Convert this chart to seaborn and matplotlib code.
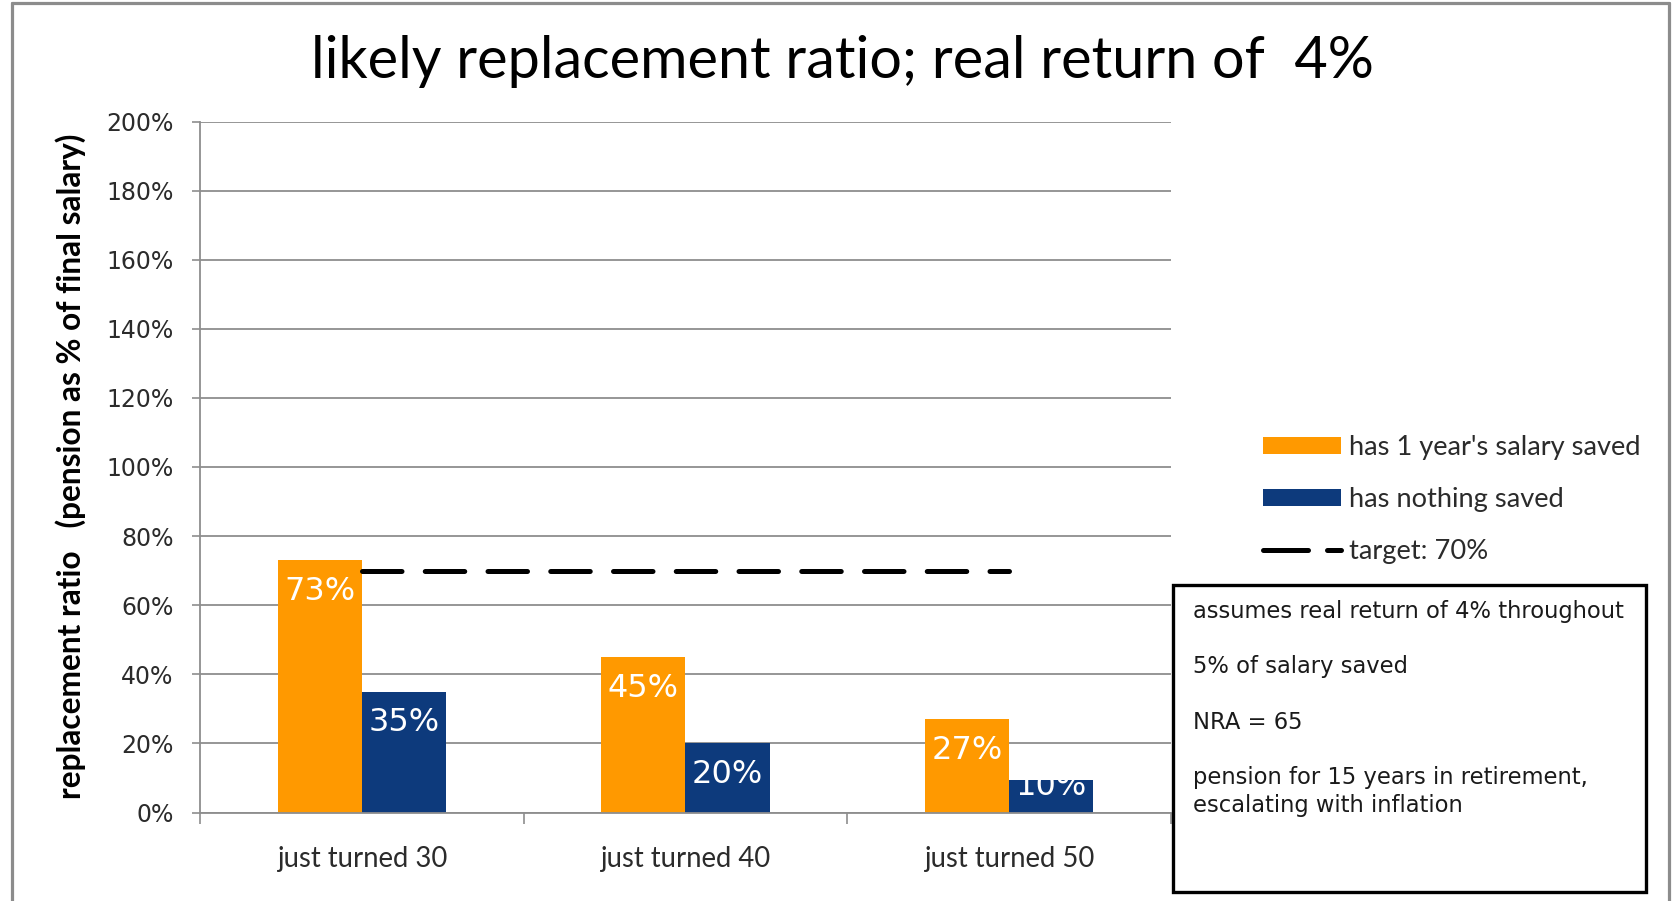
import numpy as np
import pandas as pd
import matplotlib
matplotlib.use("Agg")
import matplotlib.pyplot as plt
import seaborn as sns
from matplotlib.patches import Rectangle, Patch
from matplotlib.lines import Line2D
from matplotlib.ticker import PercentFormatter, FixedLocator

# ---------------- data ----------------
categories = ["just turned 30", "just turned 40", "just turned 50"]
series_names = ["has 1 year's salary saved", "has nothing saved"]
saved_one_year = [0.73, 0.45, 0.27]
saved_nothing = [0.35, 0.20, 0.095]
target_label = "target: 70%"
target_values = [0.70, 0.70, 0.70]
y_ticks = [0.0, 0.2, 0.4, 0.6, 0.8, 1.0, 1.2, 1.4, 1.6, 1.8, 2.0]
title_text = "likely replacement ratio; real return of  4%"
ylabel_text = "replacement ratio   (pension as % of final salary)"
note_lines = [
    "assumes real return of 4% throughout",
    "",
    "5% of salary saved",
    "",
    "NRA = 65",
    "",
    "pension for 15 years in retirement,",
    "escalating with inflation",
]

ORANGE = "#FF9900"
BLUE = "#0D3A7C"
GRID = "#8E8E8E"

df = pd.DataFrame({
    "category": categories * 2,
    "series": [series_names[0]] * 3 + [series_names[1]] * 3,
    "value": saved_one_year + saved_nothing,
})

sns.set_theme(style="white")
plt.rcParams["font.family"] = ["DejaVu Sans"]

W, H = 1672, 901
fig = plt.figure(figsize=(W / 100, H / 100), dpi=100)
fig.patch.set_facecolor("white")

ax_left, ax_right, ax_top, ax_bottom = 200, 1171, 121.5, 812.5
ax = fig.add_axes([ax_left / W, 1 - ax_bottom / H, (ax_right - ax_left) / W, (ax_bottom - ax_top) / H])

sns.barplot(data=df, x="category", y="value", hue="series", order=categories,
            hue_order=series_names, palette=[ORANGE, BLUE], width=0.52, gap=0,
            saturation=1, linewidth=0, legend=False, ax=ax, zorder=2)

ax.set_xlim(-0.5, 2.5)
ax.set_ylim(0, 2.0)

# value labels (white, inside bars near top, clipped to bar)
pt_per_unit = (ax_bottom - ax_top) / 2.0 * 0.72
for container, vals in zip(ax.containers, [saved_one_year, saved_nothing]):
    for bar, v in zip(container, vals):
        h_pt = v * pt_per_unit
        off = min(22.5, h_pt - 18.5)
        t = ax.annotate(f"{v * 100:.0f}%", xy=(bar.get_x() + bar.get_width() / 2, v),
                        xytext=(0, -off), textcoords="offset points",
                        ha="center", va="center", color="white", fontsize=23,
                        family=["DejaVu Sans"], zorder=5)
        t.set_clip_path(bar)

# target line
x_pos = np.arange(len(categories))
line, = ax.plot(x_pos, target_values, color="black", lw=3.6, zorder=4,
                dash_capstyle="round")
line.set_dashes([7.9, 4.65])

ax.yaxis.set_major_locator(FixedLocator(y_ticks))
ax.yaxis.set_major_formatter(PercentFormatter(1.0, decimals=0))
ax.yaxis.grid(True, color=GRID, lw=1.3, zorder=0)
ax.xaxis.grid(False)
ax.set_axisbelow(True)

for s in ["top", "right"]:
    ax.spines[s].set_visible(False)
for s in ["left", "bottom"]:
    ax.spines[s].set_color(GRID)
    ax.spines[s].set_linewidth(1.3)

ax.set_xlabel("")
ax.set_ylabel("")
ax.tick_params(axis="y", which="major", length=6, width=1.2, color=GRID,
               labelsize=17, labelcolor="#2b2b2b", pad=13, left=True)
ax.set_xticks(x_pos)
ax.set_xticklabels(categories, fontsize=19.8, family=["Lato", "DejaVu Sans"], color="#2b2b2b")
ax.set_xticks([-0.5, 0.5, 1.5, 2.5], minor=True)
ax.tick_params(axis="x", which="major", length=0, pad=24)
ax.tick_params(axis="x", which="minor", length=8, width=1.2, color=GRID, bottom=True)

# title
fig.text(842 / W, 1 - 78 / H, title_text, ha="center", va="baseline",
         fontsize=41.5, color="black", family=["Lato", "DejaVu Sans"])

# y label
fig.text(71 / W, 1 - 466 / H, ylabel_text, rotation=90, ha="center", va="center",
         fontsize=22.8, fontweight="bold", color="black", family=["Lato", "DejaVu Sans"])

# legend
handles = [
    Patch(facecolor=ORANGE, edgecolor="none"),
    Patch(facecolor=BLUE, edgecolor="none"),
    Line2D([0], [0], color="black", lw=3.6, dashes=[9, 3.8], dash_capstyle="round"),
]
leg = fig.legend(handles, series_names + [target_label], loc="center left",
                 bbox_to_anchor=(1263 / W, 1 - 499.5 / H), bbox_transform=fig.transFigure,
                 frameon=False, borderpad=0, borderaxespad=0,
                 handlelength=2.85, handleheight=0.58, handletextpad=0.3,
                 labelspacing=1.0, prop={"family": ["Lato", "DejaVu Sans"], "size": 19.6})
for t in leg.get_texts():
    t.set_color("#2b2b2b")

# note box
fig.patches.append(Rectangle((1173 / W, 1 - 892 / H), (1646 - 1173) / W, (892 - 585) / H,
                             transform=fig.transFigure, facecolor="white",
                             edgecolor="black", lw=2.4, zorder=10))
fig.text(1193 / W, 1 - 600 / H, "\n".join(note_lines), ha="left", va="top",
         fontsize=16.3, linespacing=1.262, color="#1a1a1a", zorder=11)

# outer figure border (left, top, right)
for xs, ys in [([12, 12], [H + 5, 3]), ([12, 1669], [3, 3]), ([1669, 1669], [3, H + 5])]:
    fig.add_artist(Line2D([x / W for x in xs], [1 - y / H for y in ys],
                          transform=fig.transFigure, color="#8C8C8C", lw=2.3))

fig.savefig("out.png", dpi=100)
